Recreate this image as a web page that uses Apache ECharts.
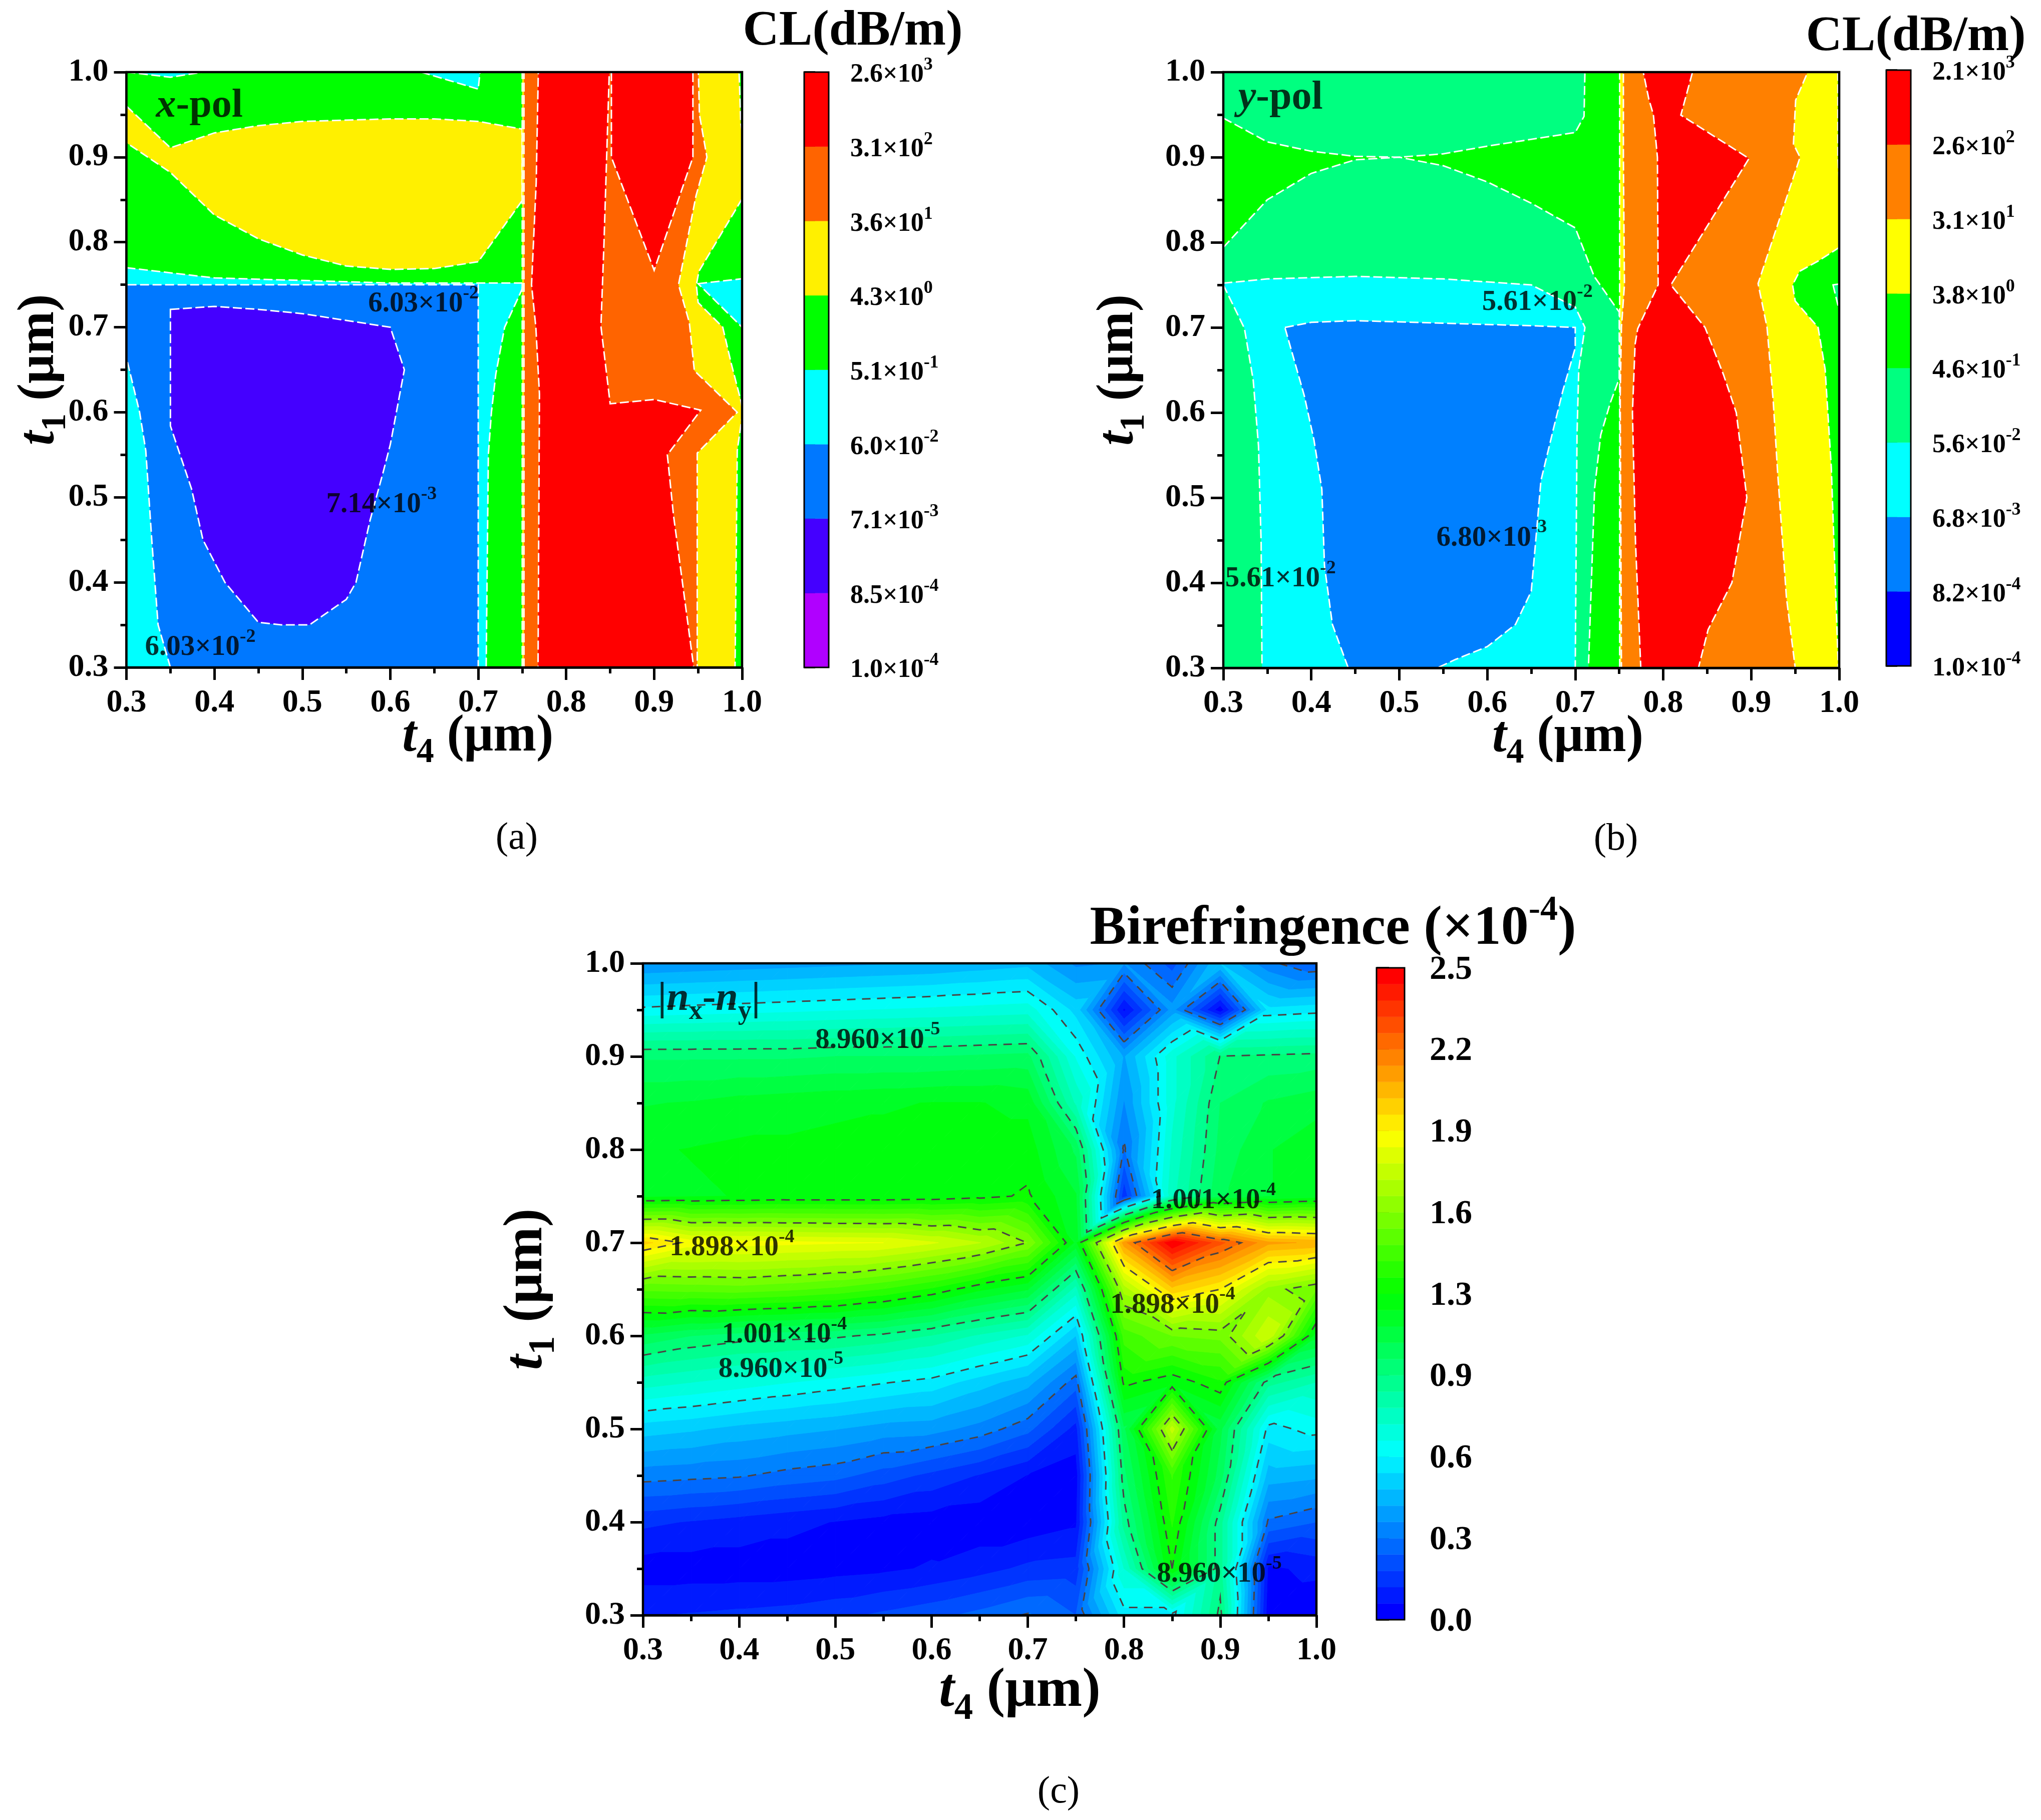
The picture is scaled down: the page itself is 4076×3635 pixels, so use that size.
<!DOCTYPE html>
<html><head><meta charset="utf-8">
<style>html,body{margin:0;padding:0;background:#fff}#c{width:4076px;height:3635px}</style>
<script src="https://cdn.jsdelivr.net/npm/echarts@6/dist/echarts.min.js"></script>
</head><body><div id="c"></div>
<script>
// ---------- axis values
const axisNodes = [0.3,0.35,0.4,0.45,0.5,0.55,0.6,0.65,0.7,0.75,0.8,0.85,0.9,0.95,1.0];
const cbarTicksA = [['1.0','-4'],['8.5','-4'],['7.1','-3'],['6.0','-2'],['5.1','-1'],['4.3','0'],['3.6','1'],['3.1','2'],['2.6','3']];
const cbarTicksB = [['1.0','-4'],['8.2','-4'],['6.8','-3'],['5.6','-2'],['4.6','-1'],['3.8','0'],['3.1','1'],['2.6','2'],['2.1','3']];
const cbarTicksC = ['0.0','0.3','0.6','0.9','1.3','1.6','1.9','2.2','2.5'];

// ---------- panel (a): contour regions, [t4, t1]
const aGreen = [[.3,.3],[1,.3],[1,1],[.3,1]];
const aCyanCorner1 = [[.3,1],[.35,.994],[.387,1]];
const aCyanCorner2 = [[.635,1],[.7,.98],[.702,1]];
const aCyan = [[.3,.77],[.4,.758],[.6,.752],[.75,.752],[.75,.745],[.73,.70],[.72,.645],[.715,.6],[.7115,.55],[.709,.3],[.3,.3]];
const aBlue = [[.35,.3],[.336,.35],[.329,.447],[.322,.555],[.315,.6],[.3,.664],[.3,.75],[.7,.75],[.7,.3]];
const aIndigo = [[.35,.721],[.4,.7245],[.45,.721],[.5,.716],[.55,.708],[.6,.7],[.616,.65],[.6,.562],[.592,.53],[.577,.473],[.561,.4],[.55,.38],[.508,.35],[.476,.35],[.45,.353],[.412,.4],[.387,.45],[.374,.51],[.35,.584]];
const aYellowLens = [[.3,.96],[.35,.911],[.4,.9285],[.45,.937],[.5,.942],[.6,.945],[.65,.945],[.7,.942],[.75,.933],[.75,.849],[.7,.777],[.65,.769],[.6,.768],[.55,.772],[.5,.785],[.45,.804],[.4,.832],[.35,.882],[.3,.917]];
const aYellowRight = [[.75,.3],[.75,1],[.9966,1],[.9985,.94],[1,.93],[1,.851],[.951,.766],[.948,.75],[.95,.729],[.978,.70],[.9875,.658],[.9985,.614],[1,.605],[1,.595],[.9945,.555],[.992,.3]];
const aOrange = [[.752,.3],[.752,1],[.9503,1],[.9515,.95],[.96,.9],[.9477,.855],[.9277,.75],[.94,.7056],[.9457,.649],[.9945,.6],[.949,.552],[.949,.3]];
const aRedLeft = [[.7683,1],[.849,1],[.846,.9],[.843,.8],[.8395,.701],[.85,.61],[.9,.615],[.953,.6025],[.915,.55],[.922,.479],[.945,.3],[.768,.3],[.7696,.6215],[.7655,.70],[.7606,.75],[.7659,.87]];
const aRedUpper = [[.8514,1],[.8514,.9],[.9,.767],[.9441,.9],[.9441,1]];
const aCyanRight = [[.95,.7512],[1,.757],[1,.7]];

// ---------- panel (b): contour regions, [t4, t1]
const bGreen = [[.3,.3],[1,.3],[1,1],[.3,1]];
const bSpringTop = [[.3,1],[.711,1],[.71,.948],[.7,.929],[.65,.921],[.6,.913],[.55,.904],[.5,.9],[.45,.901],[.4,.907],[.35,.918],[.3,.946]];
const bSpringBig = [[.3,.794],[.35,.85],[.4,.881],[.45,.897],[.5,.9],[.55,.89],[.6,.871],[.65,.846],[.7,.817],[.7215,.76],[.75,.718],[.75,.64],[.74,.612],[.729,.574],[.722,.511],[.715,.3],[.3,.3]];
const bCyan = [[.3,.752],[.35,.757],[.45,.76],[.55,.757],[.65,.75],[.7,.724],[.711,.7],[.704,.651],[.702,.574],[.7,.3],[.344,.3],[.343,.447],[.34,.561],[.334,.638],[.324,.699],[.3,.75]];
const bBlue = [[.37,.7],[.4,.706],[.45,.708],[.55,.705],[.65,.702],[.7,.7],[.7,.676],[.686,.626],[.675,.58],[.661,.52],[.656,.46],[.65,.39],[.632,.351],[.6,.325],[.564,.31],[.543,.3],[.442,.3],[.424,.351],[.415,.42],[.412,.51],[.403,.568],[.392,.62]];
const bYellow = [[.7505,.3],[.7505,1],[.9985,1],[.9985,.9],[1,.87],[1,.794],[.976,.778],[.955,.766],[.947,.75],[.95,.731],[.976,.7],[.984,.651],[.991,.536],[.999,.3]];
const bOrange = [[.7547,1],[.9642,1],[.9505,.967],[.948,.9155],[.9555,.9],[.9078,.7515],[.918,.70],[.925,.6135],[.93,.53],[.94,.383],[.95,.3],[.7525,.3],[.7511,.62],[.7525,.7],[.7559,.75],[.7547,.9]];
const bRed = [[.7773,1],[.8333,1],[.82,.9495],[.8975,.8985],[.8087,.75],[.8475,.7],[.8685,.6445],[.883,.6],[.895,.5],[.878,.4],[.851,.345],[.84,.3],[.7745,.3],[.7685,.447],[.765,.6],[.768,.68],[.771,.6985],[.7942,.75],[.7934,.9],[.7888,.95],[.7837,.968]];
const bSpringRight = [[.993,.75],[1,.751],[1,.72]];

// ---------- panel (c): birefringence (x 1e-4) at t4 = axisNodes, one list per t1
const z030 = [.12,.13,.14,.15,.17,.2,.23,.27,.32,.25,.6,.6,.96,.02,.01];
const z035 = [.03,.03,.03,.03,.04,.05,.07,.1,.14,.15,.75,1.25,.9,.05,.08];
const z040 = [.14,.12,.1,.08,.06,.04,.03,.02,.02,.05,.9,1.32,.9,.3,.25];
const z045 = [.34,.33,.32,.29,.27,.22,.17,.12,.06,.03,.98,1.38,1.03,.47,.45];
const z050 = [.53,.51,.48,.46,.44,.41,.4,.35,.27,.1,1.05,1.72,1.08,.6,.65];
const z055 = [.78,.75,.72,.69,.66,.63,.6,.53,.46,.28,1.27,1.2,1.3,.9,.81];
const z060 = [1.05,1.0,.97,.96,.95,.92,.87,.8,.74,.5,1.4,1.5,1.52,1.75,1.15];
const z065 = [1.45,1.46,1.47,1.45,1.42,1.37,1.3,1.2,1.13,.785,1.65,1.98,1.875,1.6,1.5];
const z070 = [1.96,1.85,1.84,1.83,1.82,1.8125,1.76,1.69,1.56,1.17,2.1,2.5,2.27,2.08,2.05];
const z075 = [1.17,1.18,1.19,1.2,1.2,1.2,1.21,1.23,1.26,1.13,.14,.79,1.05,1.12,1.15];
const z080 = [1.18,1.19,1.2,1.2,1.21,1.21,1.22,1.22,1.22,1.05,.3,.76,1.02,1.12,1.17];
const z085 = [1.12,1.13,1.15,1.16,1.17,1.18,1.19,1.19,1.17,.8,.37,.73,1.0,1.07,1.1];
const z090 = [.99,.99,.99,.99,1.0,1.0,1.0,1.01,1.02,.68,.43,.73,.94,.95,.96];
const z095 = [.64,.65,.66,.67,.68,.69,.7,.71,.72,.54,.05,.4,.02,.58,.6];
const z100 = [.38,.39,.4,.41,.42,.43,.44,.46,.48,.36,.38,.22,.5,.33,.25];
const zRows = [z030,z035,z040,z045,z050,z055,z060,z065,z070,z075,z080,z085,z090,z095,z100];
const contourLevels = [.3125,.625,.9375,1.25,1.5625,1.875,2.1875];
const zMax = 2.5, bandCount = 40;

// ---------- in-plot labels: [t4, t1, mantissa, exponent]
const aLabels = [[.6377,.7307,'6.03','-2'],[.59,.4946,'7.14','-3'],[.384,.3268,'6.03','-2']];
const bLabels = [[.657,.7325,'5.61','-2'],[.605,.456,'6.80','-3'],[.365,.408,'5.61','-2']];
const cLabels = [[.544,.9205,'8.960','-5'],[.3926,.6975,'1.898','-4'],[.893,.748,'1.001','-4'],[.8506,.636,'1.898','-4'],[.447,.604,'1.001','-4'],[.4434,.567,'8.960','-5'],[.899,.347,'8.960','-5']];

// ---------- styles
const FONT = '"Liberation Serif","Times New Roman",serif';
const C = {purple:'#B000FF',indigo:'#4400FF',blue:'#0078FF',cyan:'#00FFFF',green:'#00FF00',yellow:'#FFF000',orange:'#FF6400',red:'#FF0000'};
const D = {blue0:'#0000FF',blue:'#0080FF',cyan:'#00FFFF',spring:'#00FF80',green:'#00FF00',yellow:'#FFFF00',orange:'#FF8000',red:'#FF0000'};
const cbarColorsA = [C.purple,C.indigo,C.blue,C.cyan,C.green,C.yellow,C.orange,C.red];
const cbarColorsB = [D.blue0,D.blue,D.cyan,D.spring,D.green,D.yellow,D.orange,D.red];
const ramp = [[0,0,255],[0,255,255],[0,255,0],[255,255,0],[255,0,0]];
function rampColor(t){const f=t*4,i=Math.min(3,Math.floor(f)),u=f-i;return 'rgb('+ramp[i].map((v,k)=>Math.round(v+(ramp[i+1][k]-v)*u)).join(',')+')';}
const tok=(size,extra)=>Object.assign({fontFamily:FONT,fontWeight:'bold',fontSize:size,color:'#000'},extra||{});
function sciRich(size,supSize){return {b:tok(size,{verticalAlign:'bottom'}),s:tok(supSize,{verticalAlign:'top',padding:[0,0,size+12-supSize,0]})};}
const sci=(m,e)=>'{b|'+m+'×10}{s|'+e+'}';
function axisTitleRich(size){return {i:tok(size,{fontStyle:'italic',verticalAlign:'top'}),
 s:tok(size*0.68,{verticalAlign:'bottom',padding:[size*0.47,0,0,0]}),b:tok(size,{verticalAlign:'top'})};}

// ---------- grids
const plotGrids = [
 {left:252.5,top:144,width:1229.5,height:1189},
 {left:2443,top:144,width:1230,height:1190},
 {left:1284,top:1924,width:1345,height:1302}];
const cbarGrids = [
 {left:1606,top:144,width:49,height:1189},
 {left:3767,top:140,width:49,height:1190},
 {left:2749,top:1933,width:56,height:1302}];
const titleSizes=[103,103,110];
const xNameGap=[88,88,98], xNameShift=[174,146,160], yNameGap=[106,142,160];

const xAxes=[],yAxes=[];
plotGrids.forEach((g,i)=>{
 const common={type:'value',min:0.3,max:1,interval:0.1,gridIndex:i,splitLine:{show:false},
  axisLine:{show:true,onZero:false,lineStyle:{color:'#000',width:4.5}},
  axisTick:{show:true,inside:false,length:25,lineStyle:{color:'#000',width:5}},
  minorTick:{show:true,splitNumber:2,length:12,lineStyle:{color:'#000',width:5}},
  nameLocation:'middle',nameMoveOverlap:false};
 xAxes.push(Object.assign({},common,{position:'bottom',name:'{i|t}{s|4}{b| (μm)}',nameGap:xNameGap[i],nameTextStyle:{padding:[0,0,0,xNameShift[i]],rich:axisTitleRich(titleSizes[i])},
  axisLabel:{margin:39,fontFamily:FONT,fontWeight:'bold',fontSize:64,color:'#000',formatter:v=>v.toFixed(1)}}));
 yAxes.push(Object.assign({},common,{position:'left',name:'{i|t}{s|1}{b| (μm)}',nameGap:yNameGap[i],nameTextStyle:{rich:axisTitleRich(titleSizes[i])},
  axisLabel:{margin:36,fontFamily:FONT,fontWeight:'bold',fontSize:64,color:'#000',formatter:v=>v.toFixed(1)}}));
});
cbarGrids.forEach((g,i)=>{
 const gi=3+i;
 xAxes.push({type:'value',gridIndex:gi,min:0,max:1,show:false});
 const big=i==2;
 const ticks=[cbarTicksA,cbarTicksB,cbarTicksC][i];
 yAxes.push({type:'value',gridIndex:gi,position:'right',min:0,max:big?zMax:8,interval:big?zMax/8:1,splitLine:{show:false},
  axisLine:{show:false},axisTick:{show:true,inside:false,length:big?25:22,lineStyle:{color:'#000',width:3.5}},
  axisLabel:{margin:big?50:43,fontFamily:FONT,fontWeight:'bold',fontSize:big?68:52,color:'#000',padding:big?[8,0,0,0]:0,
   rich:sciRich(52,36),showMinLabel:true,showMaxLabel:true,
   formatter:(v)=>{const k=Math.round(v/(big?zMax/8:1));return big?ticks[k]:sci(ticks[k][0],ticks[k][1]);}}});
});

// ---------- series helpers
function polySeries(idx,items,z){
 return {type:'custom',coordinateSystem:'cartesian2d',xAxisIndex:idx,yAxisIndex:idx,silent:true,z:z||2,
  data:items.map((it,i)=>[it.pts[0][0],it.pts[0][1],i]),
  renderItem:(p,api)=>{const it=items[p.dataIndex];
   return {type:it.open?'polyline':'polygon',shape:{points:it.pts.map(q=>api.coord(q))},
    style:Object.assign({},it.style)};}};
}
const dashed=(pts,color)=>({pts,style:{fill:color,stroke:'#fff',lineWidth:3,lineDash:[18,7]}});
const frame=[[.3,.3],[1,.3],[1,1],[.3,1]];
const frameItem=[{pts:frame,style:{fill:'none',stroke:'#000',lineWidth:4.5,lineJoin:'miter'}}];

function labelSeries(idx,data,font){
 return {type:'scatter',xAxisIndex:idx,yAxisIndex:idx,silent:true,z:20,symbolSize:1,itemStyle:{color:'rgba(0,0,0,0)'},
  data:data.map(d=>[d[0],d[1]]),
  label:{show:true,position:'inside',formatter:p=>data[p.dataIndex][2],rich:font}};
}

// ---------- panel (c): triangulated contouring of the grid
const cols=axisNodes.length,rows=zRows.length;
const vid=(r,c)=>r*cols+c;
const vx=id=>axisNodes[id%cols], vy=id=>axisNodes[Math.floor(id/cols)], vz=id=>zRows[Math.floor(id/cols)][id%cols];
const tris=[];
for(let r=0;r<rows-1;r++)for(let c=0;c<cols-1;c++){
 const a=vid(r,c),b=vid(r,c+1),d=vid(r+1,c),e=vid(r+1,c+1);
 if(Math.abs(vz(a)-vz(e))<=Math.abs(vz(b)-vz(d))+0.12){tris.push([a,b,e],[a,e,d]);}
 else{tris.push([a,b,d],[b,e,d]);}
}
function clipZ(poly,lim,keepAbove){
 const out=[];
 for(let i=0;i<poly.length;i++){
  const p=poly[i],q=poly[(i+1)%poly.length];
  const pin=keepAbove?p[2]>=lim:p[2]<=lim, qin=keepAbove?q[2]>=lim:q[2]<=lim;
  if(pin)out.push(p);
  if(pin!==qin){const t=(lim-p[2])/(q[2]-p[2]);out.push([p[0]+(q[0]-p[0])*t,p[1]+(q[1]-p[1])*t,lim]);}
 }
 return out;
}
const bandItems=[];
for(let k=0;k<bandCount;k++){
 const lo=k*zMax/bandCount,hi=(k+1)*zMax/bandCount,col=rampColor(k/(bandCount-1));
 tris.forEach(t=>{
  let poly=t.map(id=>[vx(id),vy(id),vz(id)]);
  if(k>0)poly=clipZ(poly,lo,true);
  if(poly.length&&k<bandCount-1)poly=clipZ(poly,hi,false);
  if(poly.length>=3)bandItems.push({pts:poly.map(p=>[p[0],p[1]]),style:{fill:col,stroke:col,lineWidth:1}});
 });
}
function traceLevel(L){
 const segs=[],pos={},adj={};
 tris.forEach(t=>{
  const keys=[];
  for(let i=0;i<3;i++){
   const u=t[i],v=t[(i+1)%3],zu=vz(u),zv=vz(v);
   if((zu>=L)!==(zv>=L)){
    const key=Math.min(u,v)+'_'+Math.max(u,v);
    const s=(L-zu)/(zv-zu);
    pos[key]=[vx(u)+(vx(v)-vx(u))*s,vy(u)+(vy(v)-vy(u))*s];
    keys.push(key);
   }
  }
  if(keys.length===2){const idx=segs.length;segs.push(keys);
   keys.forEach(k=>{(adj[k]=adj[k]||[]).push(idx);});}
 });
 const used=segs.map(()=>false),lines=[];
 function walk(si,startKey){
  const pts=[pos[startKey]];let key=startKey,cur=si;
  while(cur!==undefined&&!used[cur]){
   used[cur]=true;
   const nk=segs[cur][0]===key?segs[cur][1]:segs[cur][0];
   pts.push(pos[nk]);key=nk;
   cur=(adj[key]||[]).find(x=>!used[x]);
  }
  return pts;
 }
 Object.keys(adj).forEach(k=>{if(adj[k].length===1&&!used[adj[k][0]])lines.push(walk(adj[k][0],k));});
 segs.forEach((s,i)=>{if(!used[i])lines.push(walk(i,s[0]));});
 return lines;
}
const contourItems=[];
contourLevels.forEach(L=>traceLevel(L).forEach(pts=>contourItems.push({open:true,pts,style:{fill:'none',stroke:'#4a4444',lineWidth:3,lineDash:[17,13]}})));

// ---------- colour bars
function cbarItems(colors,maxV){
 const n=colors.length,items=[];
 colors.forEach((c,k)=>{const a=k*maxV/n,b=(k+1)*maxV/n;
  items.push({pts:[[0,a],[1,a],[1,b],[0,b]],style:{fill:c,stroke:c,lineWidth:0.5}});});
 return items;
}
const bandColors=[];for(let k=0;k<bandCount;k++)bandColors.push(rampColor(k/(bandCount-1)));
const cbarFrame=m=>[{pts:[[0,0],[1,0],[1,m],[0,m]],style:{fill:'none',stroke:'#000',lineWidth:3}}];

// ---------- labels
const lblRich=sciRich(57,38);
const mk=list=>list.map(d=>[d[0],d[1],sci(d[2],d[3])]);
const polRich={i:tok(80,{fontStyle:'italic'}),b:tok(80)};
const nRich={b:tok(80,{verticalAlign:'top'}),i:tok(80,{fontStyle:'italic',verticalAlign:'top'}),s:tok(54,{verticalAlign:'bottom',padding:[38,0,0,0]})};

const series=[
 polySeries(0,[[aGreen,C.green],[aCyanCorner1,C.cyan],[aCyanCorner2,C.cyan],[aCyan,C.cyan],[aBlue,C.blue],[aIndigo,C.indigo],[aYellowLens,C.yellow],[aYellowRight,C.yellow],[aOrange,C.orange],[aRedLeft,C.red],[aRedUpper,C.red],[aCyanRight,C.cyan]].map(r=>dashed(r[0],r[1]))),
 polySeries(1,[[bGreen,D.green],[bSpringTop,D.spring],[bSpringBig,D.spring],[bCyan,D.cyan],[bBlue,D.blue],[bYellow,D.yellow],[bOrange,D.orange],[bRed,D.red],[bSpringRight,D.spring]].map(r=>dashed(r[0],r[1]))),
 polySeries(2,bandItems,2),
 polySeries(2,contourItems,3),
 polySeries(0,frameItem,10),polySeries(1,frameItem,10),polySeries(2,frameItem,10),
 polySeries(3,cbarItems(cbarColorsA,8),2),polySeries(4,cbarItems(cbarColorsB,8),2),polySeries(5,cbarItems(bandColors,zMax),2),
 polySeries(3,cbarFrame(8),10),polySeries(4,cbarFrame(8),10),polySeries(5,cbarFrame(zMax),10),
 labelSeries(0,mk(aLabels),lblRich),labelSeries(1,mk(bLabels),lblRich),labelSeries(2,mk(cLabels),lblRich),
 labelSeries(0,[[.383,.96,'{i|x}{b|-pol}']],polRich),
 labelSeries(1,[[.365,.969,'{i|y}{b|-pol}']],polRich),
 labelSeries(2,[[.3687,.958,'{b||}{i|n}{s|x}{b|-}{i|n}{s|y}{b||}']],nRich)
];

const txt=(x,y,text,rich,plainSize)=>({type:'text',x,y,silent:true,style:{text,rich,align:'center',verticalAlign:'middle',fill:'#000',
  font:(rich?'bold ':'')+plainSize+'px '+FONT}});
const graphic=[
 txt(1703,63,'{b|CL(dB/m)}',{b:tok(100)},100),
 txt(3826,74,'{b|CL(dB/m)}',{b:tok(100)},100),
 txt(2662,1848,'{b|Birefringence (×10}{s|-4}{b|)}',{b:tok(110,{verticalAlign:'bottom'}),s:tok(70,{verticalAlign:'top',padding:[0,0,58,0]})},110),
 txt(1032,1675,'(a)',null,76),txt(3227,1677,'(b)',null,76),txt(2114,3580,'(c)',null,76)
];

const chart=echarts.init(document.getElementById('c'),null,{renderer:'canvas'});
chart.setOption({animation:false,backgroundColor:'#fff',
 grid:plotGrids.concat(cbarGrids).map(g=>Object.assign({containLabel:false,show:false},g)),
 xAxis:xAxes,yAxis:yAxes,series,graphic});
</script></body></html>
